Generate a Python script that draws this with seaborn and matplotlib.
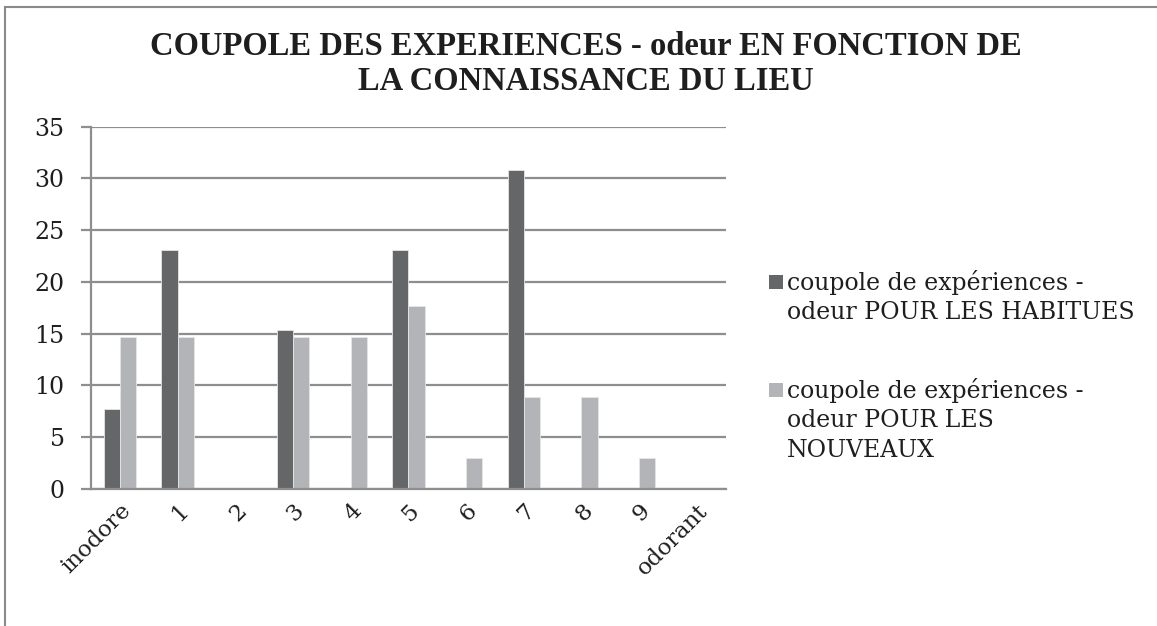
import matplotlib
matplotlib.use("Agg")
import matplotlib.pyplot as plt
from matplotlib.patches import Rectangle
import pandas as pd
import seaborn as sns

# Scale positions on the smell rating (inodore -> odorant)
categories = ["inodore", "1", "2", "3", "4", "5", "6", "7", "8", "9", "odorant"]
# Percentages for regular visitors
habitues = [7.69, 23.08, 0, 15.38, 0, 23.08, 0, 30.77, 0, 0, 0]
# Percentages for new visitors
nouveaux = [14.71, 14.71, 0, 14.71, 14.71, 17.65, 2.94, 8.82, 8.82, 2.94, 0]

series_names = [
    "coupole de expériences -\nodeur POUR LES HABITUES",
    "coupole de expériences -\nodeur POUR LES\nNOUVEAUX",
]
y_ticks = [0, 5, 10, 15, 20, 25, 30, 35]
title = "COUPOLE DES EXPERIENCES - odeur EN FONCTION DE\nLA CONNAISSANCE DU LIEU"

df = pd.DataFrame({
    "note": categories * 2,
    "pct": habitues + nouveaux,
    "groupe": [series_names[0]] * len(categories) + [series_names[1]] * len(categories),
})

DARK = "#656668"
LIGHT = "#b3b4b8"
GRID = "#8e8e8e"
TEXT = "#1e1e1e"
BODY_FONT = ["DejaVu Serif"]
TITLE_FONT = ["Liberation Serif", "DejaVu Serif"]

sns.set_style("white")
plt.rcParams["font.family"] = BODY_FONT

fig = plt.figure(figsize=(11.57, 6.26), dpi=100)
ax = fig.add_axes([0.0787, 0.2193, 0.5485, 0.5783])

sns.barplot(
    data=df, x="note", y="pct", hue="groupe", order=categories,
    hue_order=series_names, palette=[DARK, LIGHT], saturation=1,
    width=0.56, edgecolor="#e6e6e6", linewidth=0.6, ax=ax, legend=False,
)

ax.set_ylim(0, 35)
ax.set_xlim(-0.5, len(categories) - 0.5)
ax.set_yticks(y_ticks)
ax.set_yticklabels([str(t) for t in y_ticks], fontsize=17, color=TEXT)
ax.set_xlabel("")
ax.set_ylabel("")
ax.set_axisbelow(True)
ax.yaxis.grid(True, color=GRID, linewidth=1.6)
ax.xaxis.grid(False)

for side in ["top", "right"]:
    ax.spines[side].set_visible(False)
for side in ["left", "bottom"]:
    ax.spines[side].set_color(GRID)
    ax.spines[side].set_linewidth(1.6)

ax.tick_params(axis="y", which="major", direction="out", length=7, width=1.6,
               color=GRID, pad=12, left=True)
ax.tick_params(axis="x", length=0, pad=8)
ax.set_xticks(range(len(categories)))
ax.set_xticklabels(categories, rotation=45, ha="right", rotation_mode="anchor",
                   fontsize=16.5, color=TEXT)

fig.text(0.506, 0.951, title, ha="center", va="top", fontsize=23.5,
         fontweight="bold", color=TEXT, linespacing=1.2, family=TITLE_FONT)

# Legend drawn beside the plot area
W, H = 1157, 626
entries = [(DARK, 275, series_names[0]), (LIGHT, 383, series_names[1])]
for color, top_px, label in entries:
    fig.patches.append(Rectangle((769 / W, 1 - (top_px + 14) / H), 14 / W, 14 / H,
                                 transform=fig.transFigure, facecolor=color,
                                 edgecolor="none"))
    fig.text(787 / W, 1 - (top_px - 5) / H, label, ha="left", va="top",
             fontsize=17, color=TEXT, linespacing=1.36)

# Chart frame
fig.patches.append(Rectangle((5 / W, -0.02), 1.05, 1 - 7 / H + 0.02,
                             transform=fig.transFigure, facecolor="none",
                             edgecolor="#8a8a8a", linewidth=1.5))

fig.savefig("out.png", dpi=100)
